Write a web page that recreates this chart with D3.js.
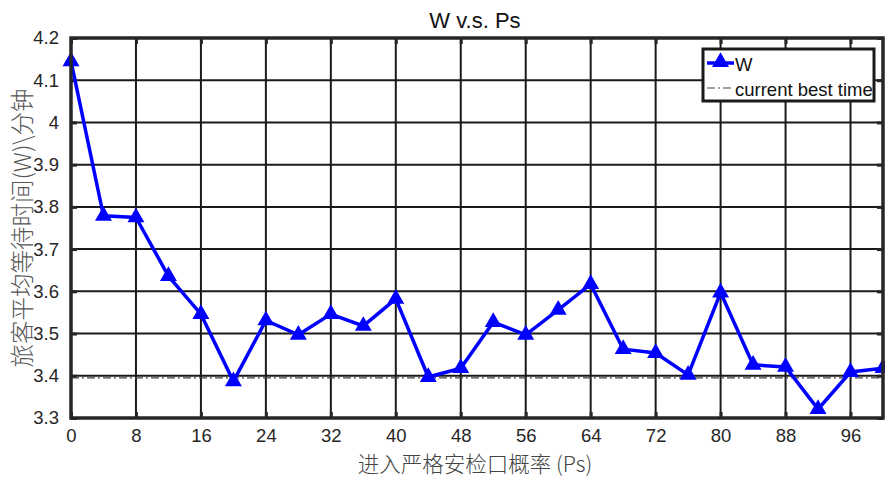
<!DOCTYPE html>
<html><head><meta charset="utf-8">
<script src="https://cdn.jsdelivr.net/npm/d3@7"></script>
<style>
body{margin:0;background:#fff;}
text{font-family:"Liberation Sans",Arial,sans-serif;}
</style></head>
<body>
<svg id="chart" width="885" height="477"></svg>
<script>
const psValues = [0,4,8,12,16,20,24,28,32,36,40,44,48,52,56,60,64,68,72,76,80,84,88,92,96,100];
const wValues = [4.145,3.779,3.775,3.636,3.546,3.387,3.531,3.497,3.546,3.518,3.582,3.397,3.418,3.527,3.497,3.556,3.617,3.463,3.454,3.402,3.597,3.426,3.421,3.321,3.409,3.418];
const bestTime = 3.395;
const xTicks = [0,8,16,24,32,40,48,56,64,72,80,88,96];
const yTicks = [3.3,3.4,3.5,3.6,3.7,3.8,3.9,4.0,4.1,4.2];
const titleText = "W v.s. Ps";
const xLabel = "进入严格安检口概率 (Ps)";
const yLabel = "旅客平均等待时间(W)\\分钟";
const legendLabels = ["W","current best time"];

const svg = d3.select("#chart");
const L=71,R=883,T=38,B=418;
const x = d3.scaleLinear().domain([0,100]).range([L,R]);
const y = d3.scaleLinear().domain([3.3,4.2]).range([B,T]);

// grid
const g = svg.append("g");
g.selectAll(".vg").data(xTicks).enter().append("line")
 .attr("x1",d=>x(d)).attr("x2",d=>x(d)).attr("y1",T).attr("y2",B)
 .attr("stroke","#1a1a1a").attr("stroke-width",2);
g.selectAll(".hg").data(yTicks).enter().append("line")
 .attr("y1",d=>y(d)).attr("y2",d=>y(d)).attr("x1",L).attr("x2",R)
 .attr("stroke","#1a1a1a").attr("stroke-width",2);

// axes
const xAxisB = d3.axisBottom(x).tickValues(xTicks).tickSize(-6).tickPadding(11).tickFormat(d3.format("d"));
const xAxisT = d3.axisTop(x).tickValues(xTicks).tickSize(-6).tickFormat("");
const yAxisL = d3.axisLeft(y).tickValues(yTicks).tickSize(-6).tickPadding(12).tickFormat(d=>d3.format("")(+d.toFixed(1)));
const yAxisR = d3.axisRight(y).tickValues(yTicks).tickSize(-6).tickFormat("");
function style(sel){
  sel.selectAll("path").remove();
  sel.selectAll("line").attr("stroke","#262626").attr("stroke-width",3);
  sel.selectAll("text").attr("fill","#262626").style("font-size","18.5px").style("font-family","'Liberation Sans',Arial,sans-serif");
}
svg.append("g").attr("transform",`translate(0,${B})`).call(xAxisB).call(style);
svg.append("g").attr("transform",`translate(0,${T})`).call(xAxisT).call(style);
svg.append("g").attr("transform",`translate(${L},0)`).call(yAxisL).call(style);
svg.append("g").attr("transform",`translate(${R},0)`).call(yAxisR).call(style);

// best time line
svg.append("line").attr("x1",L).attr("x2",R).attr("y1",y(bestTime)).attr("y2",y(bestTime))
 .attr("stroke","#444").attr("stroke-width",1.2).attr("stroke-dasharray","8,3,2,3");

// series
const line = d3.line().x((d,i)=>x(psValues[i])).y(d=>y(d));
svg.append("path").datum(wValues).attr("d",line).attr("fill","none")
 .attr("stroke","#0000ff").attr("stroke-width",3.5).attr("stroke-linejoin","miter");
const tri = d3.symbol().type(d3.symbolTriangle).size(125);
svg.selectAll(".pt").data(wValues).enter().append("path")
 .attr("d",tri).attr("transform",(d,i)=>`translate(${x(psValues[i])},${y(d)})`)
 .attr("fill","#0000ff");

// box
svg.append("rect").attr("x",L).attr("y",T).attr("width",R-L).attr("height",B-T)
 .attr("fill","none").attr("stroke","#262626").attr("stroke-width",3.5);

// title and labels
svg.append("text").attr("x",475).attr("y",28).attr("text-anchor","middle")
 .style("font-size","22px").attr("fill","#111").text(titleText);
svg.append("text").attr("x",475).attr("y",472).attr("text-anchor","middle")
 .style("font-size","21.5px").style("font-family","'Noto Sans CJK SC',sans-serif").style("font-weight","300").attr("fill","#444").text(xLabel);
svg.append("text").attr("transform","translate(31,228) rotate(-90)").attr("text-anchor","middle")
 .style("font-size","23.5px").style("font-family","'Noto Sans CJK SC',sans-serif").style("font-weight","300").attr("fill","#555").text(yLabel);

// legend
const lg = svg.append("g");
lg.append("rect").attr("x",703).attr("y",49).attr("width",171).attr("height",52)
 .attr("fill","#fff").attr("stroke","#1a1a1a").attr("stroke-width",3);
lg.append("line").attr("x1",707).attr("x2",734).attr("y1",63).attr("y2",63).attr("stroke","#0000ff").attr("stroke-width",3.5);
lg.append("path").attr("d",tri).attr("transform","translate(720.5,62)").attr("fill","#0000ff");
lg.append("line").attr("x1",707).attr("x2",734).attr("y1",88).attr("y2",88).attr("stroke","#444").attr("stroke-width",1.2).attr("stroke-dasharray","8,3,2,3");
lg.append("text").attr("x",735).attr("y",71).style("font-size","18.5px").attr("fill","#111").text(legendLabels[0]);
lg.append("text").attr("x",735).attr("y",96).style("font-size","18.5px").attr("fill","#111").text(legendLabels[1]);
</script>
</body></html>
